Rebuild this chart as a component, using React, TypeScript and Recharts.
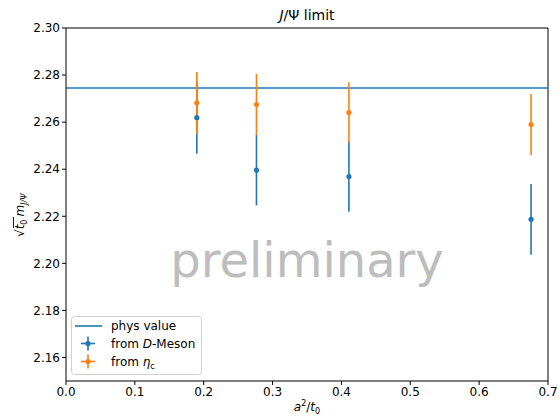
import {
  ErrorBar,
  ReferenceLine,
  Scatter,
  ScatterChart,
  XAxis,
  YAxis,
} from "recharts";

// lattice spacing a^2/t0 for each ensemble
const a2t0 = [0.19, 0.2766, 0.4109, 0.6754];

// sqrt(t0) m_J/Psi determined from the D-meson
const dMeson = [2.2619, 2.2396, 2.2369, 2.2187];
const dMesonErr = [0.0153, 0.015, 0.015, 0.015];

// sqrt(t0) m_J/Psi determined from eta_c
const etaC = [2.2682, 2.2675, 2.2641, 2.259];
const etaCErr = [0.0131, 0.013, 0.0128, 0.013];

const physValue = 2.2745;

const xTicks = [0, 0.1, 0.2, 0.3, 0.4, 0.5, 0.6, 0.7];
const yTicks = [2.16, 2.18, 2.2, 2.22, 2.24, 2.26, 2.28, 2.3];

const BLUE = "#1f77b4";
const ORANGE = "#ff7f0e";
const FONT = "'DejaVu Sans', sans-serif";

const dMesonData = a2t0.map((x, i) => ({ x, y: dMeson[i], err: dMesonErr[i] }));
const etaCData = a2t0.map((x, i) => ({ x, y: etaC[i], err: etaCErr[i] }));

const dot = (color: string) => (props: any) =>
  <circle cx={props.cx} cy={props.cy} r={2.6} fill={color} />;

const tickStyle = { fill: "#000", fontSize: 12, fontFamily: FONT };

function ErrHandle({ x, y, color }: { x: number; y: number; color: string }) {
  return (
    <g stroke={color} strokeWidth={1.6}>
      <line x1={x} y1={y - 7} x2={x} y2={y + 7} />
      <line x1={x - 7} y1={y} x2={x + 7} y2={y} />
      <circle cx={x} cy={y} r={2.6} fill={color} stroke="none" />
    </g>
  );
}

export default function App() {
  return (
    <div style={{ position: "absolute", left: 0, top: 0, width: 560, height: 420, background: "#fff" }}>
      <ScatterChart
        width={560}
        height={420}
        margin={{ top: 28, right: 12, left: 0, bottom: 0 }}
      >
        <XAxis
          type="number"
          dataKey="x"
          domain={[0, 0.7]}
          ticks={xTicks}
          tickFormatter={(v: number) => v.toFixed(1)}
          allowDataOverflow
          height={39}
          tickSize={4}
          tick={tickStyle}
          stroke="#000"
        />
        <YAxis
          type="number"
          dataKey="y"
          domain={[2.15, 2.3]}
          ticks={yTicks}
          tickFormatter={(v: number) => v.toFixed(2)}
          allowDataOverflow
          width={66}
          tickSize={4}
          tick={tickStyle}
          stroke="#000"
        />
        {/* top and right frame lines */}
        <ReferenceLine y={2.3} stroke="#000" strokeWidth={1} />
        <ReferenceLine x={0.7} stroke="#000" strokeWidth={1} />

        <ReferenceLine y={physValue} stroke={BLUE} strokeWidth={1.6} />

        <Scatter
          name="from D-Meson"
          data={dMesonData}
          fill={BLUE}
          shape={dot(BLUE)}
          isAnimationActive={false}
        >
          <ErrorBar dataKey="err" direction="y" width={0} stroke={BLUE} strokeWidth={1.6} />
        </Scatter>
        <Scatter
          name="from eta_c"
          data={etaCData}
          fill={ORANGE}
          shape={dot(ORANGE)}
          isAnimationActive={false}
        >
          <ErrorBar dataKey="err" direction="y" width={0} stroke={ORANGE} strokeWidth={1.6} />
        </Scatter>
      </ScatterChart>

      <svg
        width={560}
        height={420}
        style={{ position: "absolute", left: 0, top: 0, pointerEvents: "none" }}
        fontFamily={FONT}
      >
        {/* title */}
        <text x={307} y={20} textAnchor="middle" fontSize={14}>
          <tspan fontStyle="italic">J</tspan>/Ψ limit
        </text>

        {/* axis labels */}
        <text x={307} y={411} textAnchor="middle" fontSize={12}>
          <tspan fontStyle="italic">a</tspan>
          <tspan fontSize={8} dy={-5}>2</tspan>
          <tspan dy={5}>/</tspan>
          <tspan fontStyle="italic">t</tspan>
          <tspan fontSize={8} dy={3}>0</tspan>
        </text>
        <g transform="translate(24 204) rotate(-90)">
          <text x={-33} y={0} fontSize={12}>
            √<tspan fontStyle="italic">t</tspan>
            <tspan fontSize={8} dy={3}>0</tspan>
            <tspan dy={-3} dx={3} fontStyle="italic">m</tspan>
            <tspan fontSize={8} dy={3} fontStyle="italic">J/Ψ</tspan>
          </text>
          {/* square-root bar */}
          <line x1={-24} y1={-10.5} x2={-13} y2={-10.5} stroke="#000" strokeWidth={0.9} />
        </g>

        {/* watermark */}
        <text x={307} y={277} textAnchor="middle" fontSize={48} fill="#bdbdbd">
          preliminary
        </text>

        {/* legend */}
        <rect
          x={71.5}
          y={316.5}
          width={130}
          height={58}
          rx={3}
          fill="#fff"
          fillOpacity={0.8}
          stroke="#d0d0d0"
        />
        <line x1={75} y1={326} x2={102} y2={326} stroke={BLUE} strokeWidth={1.6} />
        <text x={111} y={330} fontSize={12}>phys value</text>
        <ErrHandle x={88} y={343.5} color={BLUE} />
        <text x={111} y={348} fontSize={12}>
          from <tspan fontStyle="italic">D</tspan>-Meson
        </text>
        <ErrHandle x={88} y={361.5} color={ORANGE} />
        <text x={111} y={366} fontSize={12}>
          from <tspan fontStyle="italic">η</tspan>
          <tspan fontSize={8} dy={3}>c</tspan>
        </text>
      </svg>
    </div>
  );
}
